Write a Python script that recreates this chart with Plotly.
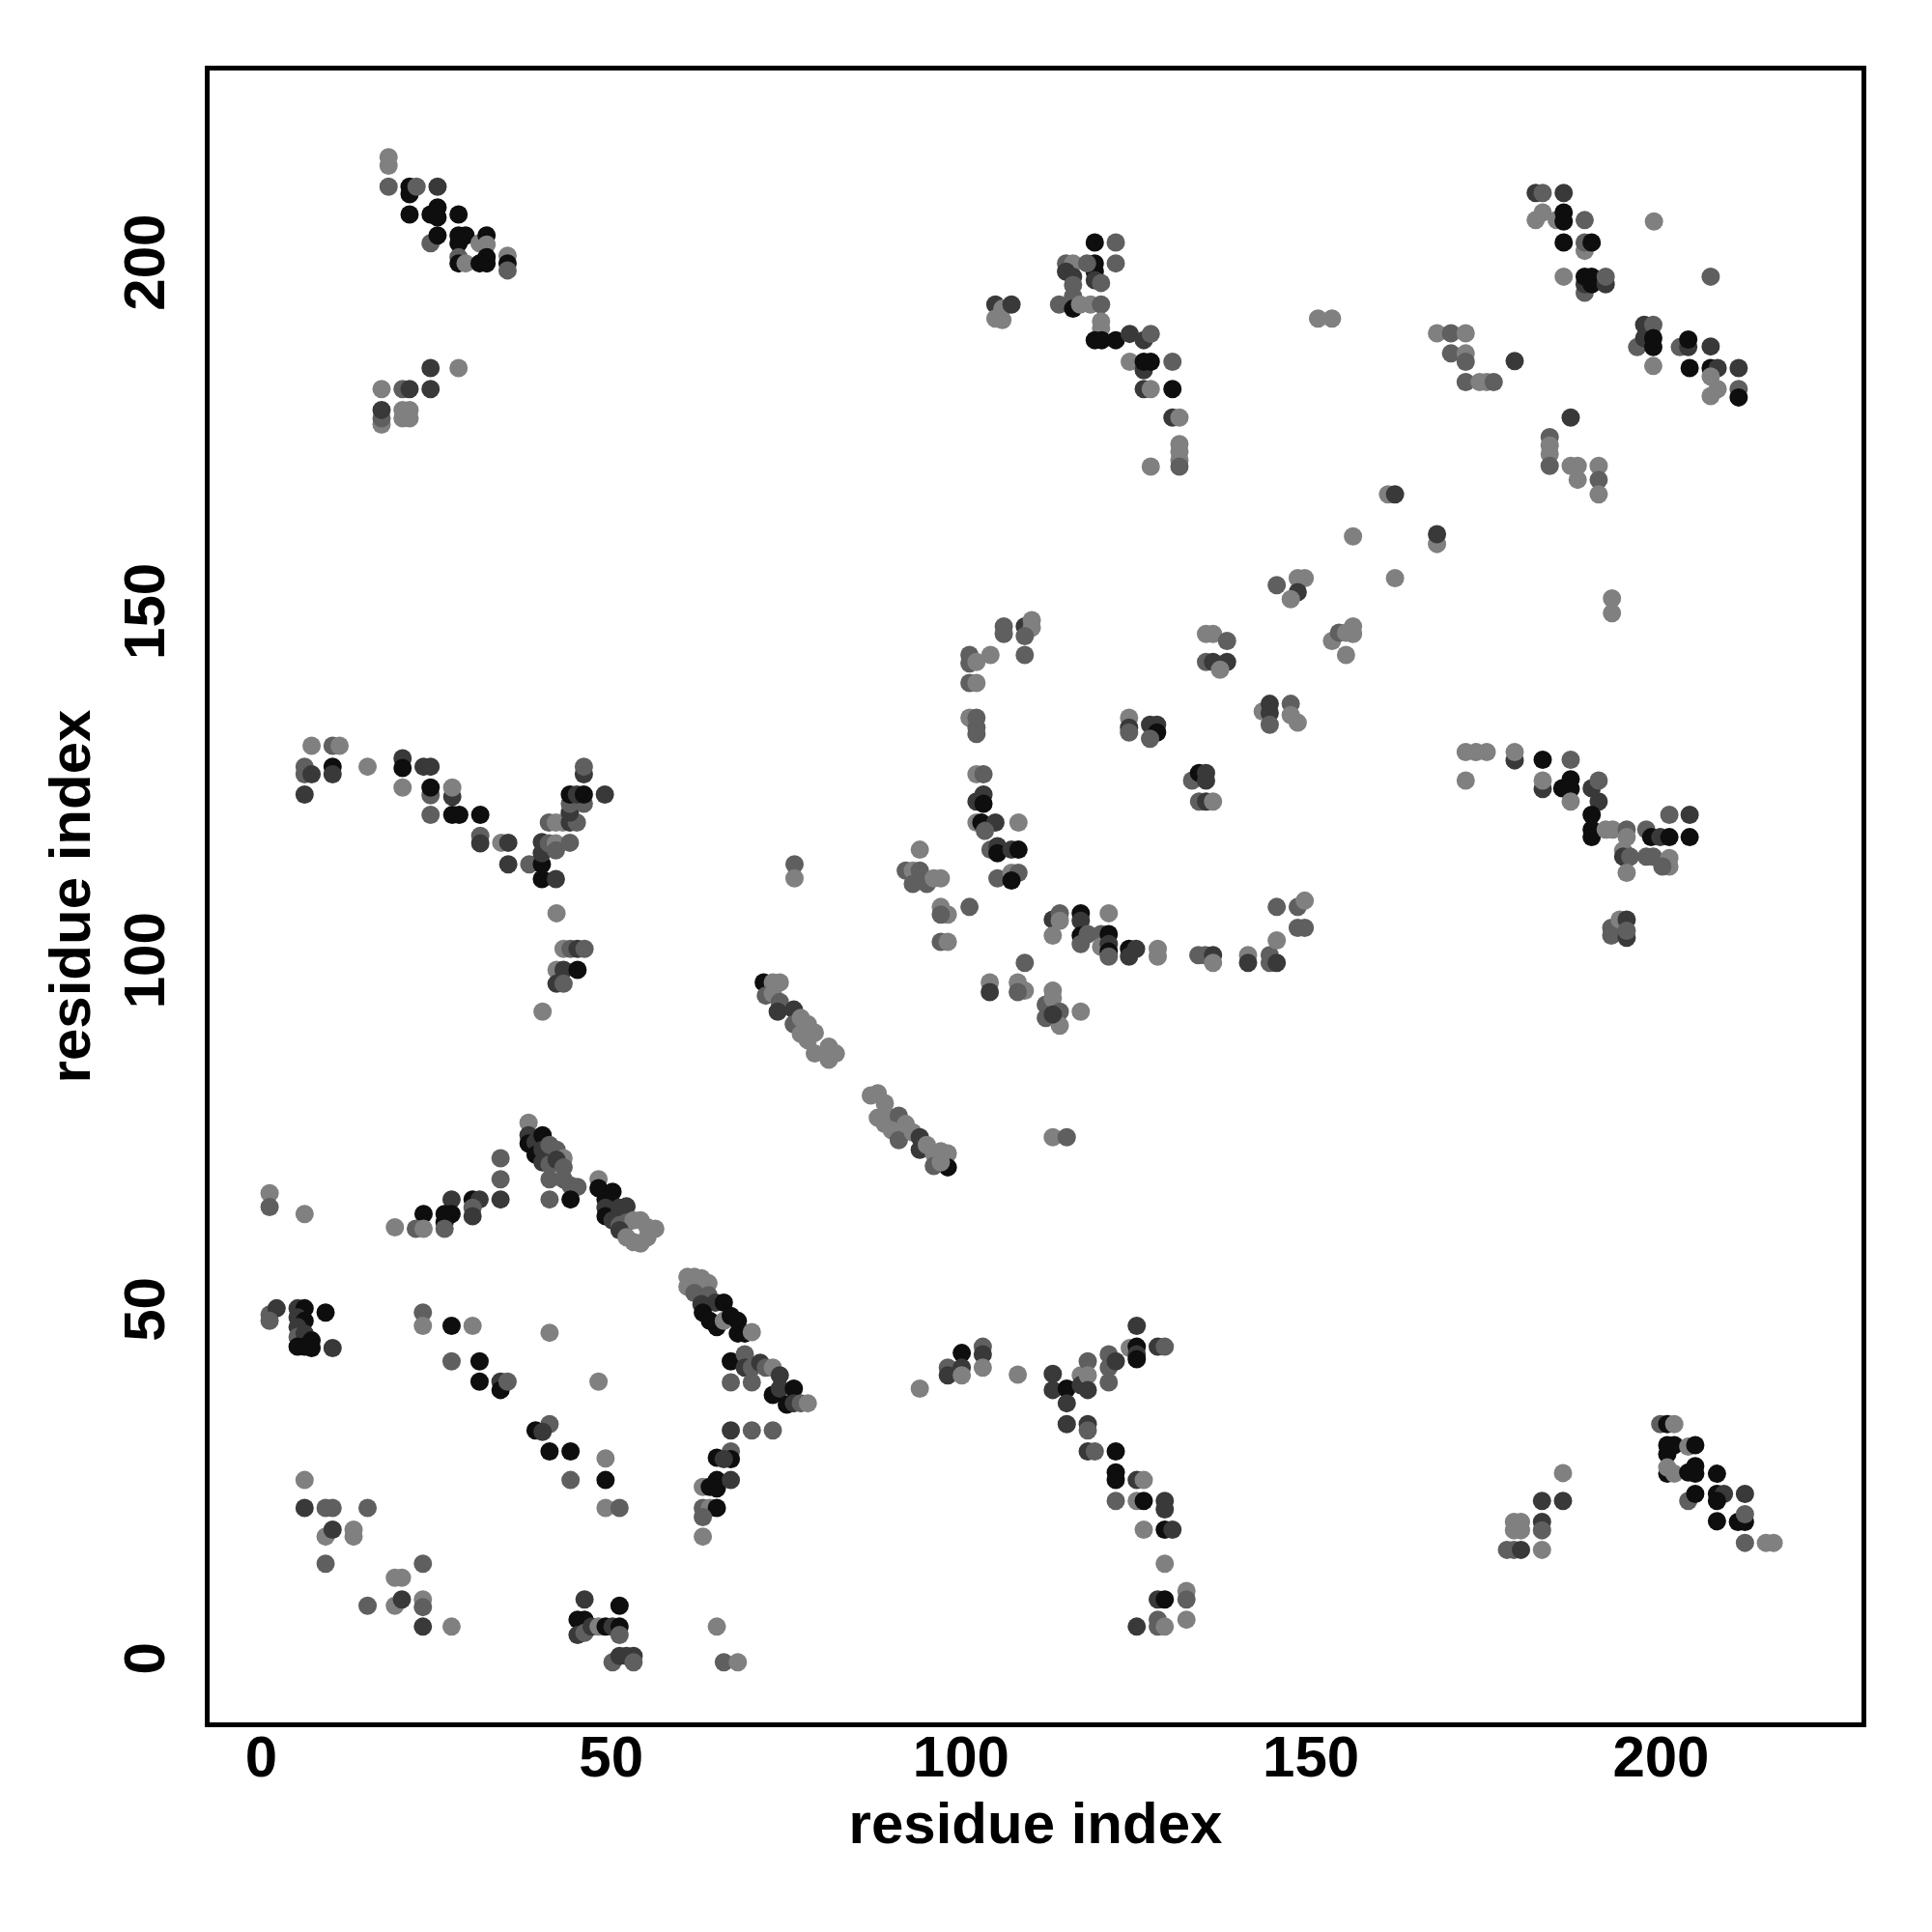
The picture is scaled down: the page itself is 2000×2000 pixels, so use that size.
import plotly.graph_objects as go

# Each point: (residue i, residue j, shade level)  k=black, d=dark, m=mid, g=light grey
cluster_top_left = [
    (18.2,216.3,'g'),(18.2,215.1,'g'),(18.2,212.1,'m'),(21.2,212.1,'k'),(21.2,211.0,'k'),(22.2,212.1,'m'),(25.2,212.1,'d'),
    (21.2,208.1,'k'),(24.2,208.1,'k'),(25.2,209.1,'k'),(25.2,207.7,'k'),(28.2,208.1,'k'),
    (24.2,204.0,'m'),(25.2,205.1,'k'),(28.2,205.1,'k'),(28.2,204.0,'k'),(29.2,205.1,'k'),(31.2,204.0,'g'),(32.2,205.1,'k'),(32.2,203.8,'g'),
    (28.2,202.0,'m'),(28.2,201.1,'k'),(29.2,201.1,'g'),(31.2,201.1,'k'),(32.2,202.0,'k'),(32.2,201.1,'k'),(35.2,202.2,'g'),(35.2,201.1,'k'),(35.2,200.1,'m'),
    (24.2,186.1,'d'),(28.2,186.1,'g'),(17.2,183.1,'g'),(20.2,183.1,'m'),(21.2,183.1,'d'),(24.2,183.1,'d'),
    (17.2,178.0,'g'),(17.2,178.9,'m'),(17.2,180.1,'d'),(20.2,180.1,'g'),(21.2,180.1,'g'),(20.2,178.9,'g'),(21.2,178.9,'g'),
]

cluster_top_mid = [
    (119.1,204.1,'k'),(122.1,204.1,'m'),(119.1,201.1,'k'),(119.1,199.9,'k'),(119.1,198.7,'d'),(120.0,198.3,'m'),(122.1,201.1,'m'),
    (115.0,201.1,'m'),(116.0,201.1,'g'),(115.0,199.9,'d'),(116.0,199.2,'d'),(116.0,198.0,'m'),(118.0,201.1,'m'),
    (114.0,195.2,'m'),(116.0,196.4,'m'),(116.0,194.6,'k'),(117.0,195.2,'g'),(118.5,195.2,'g'),(120.0,195.2,'m'),
    (104.9,195.2,'d'),(104.9,193.2,'g'),(105.9,194.6,'g'),(105.9,193.0,'g'),(107.2,195.2,'d'),
    (120.0,192.8,'g'),(120.0,191.8,'g'),
    (119.1,190.1,'k'),(120.1,190.1,'k'),(122.1,190.1,'k'),(124.1,191.0,'d'),(126.1,190.1,'d'),(127.1,191.0,'m'),
    (124.1,187.0,'g'),(126.1,185.8,'d'),(126.1,187.0,'k'),(127.1,187.0,'k'),(130.2,187.0,'m'),
    (126.1,183.1,'d'),(127.1,183.1,'g'),(130.2,183.1,'k'),
    (130.2,179.0,'d'),(131.2,179.0,'g'),
    (131.2,175.2,'g'),(131.2,174.1,'g'),(131.2,172.9,'g'),(131.2,172.0,'m'),(127.1,172.0,'g'),
]

cluster_top_right = [
    (151.0,193.2,'g'),(153.0,193.2,'g'),
    (168.0,191.1,'g'),(170.0,191.1,'m'),(172.1,191.1,'g'),(170.0,188.2,'m'),(172.1,188.2,'g'),(172.1,187.0,'m'),
    (179.1,187.1,'d'),
    (172.1,184.1,'m'),(174.1,184.1,'g'),(175.1,184.1,'g'),(176.1,184.1,'m'),
    (182.1,211.2,'d'),(183.1,211.2,'m'),(186.1,211.2,'d'),
    (182.1,207.3,'g'),(183.1,208.4,'g'),(185.1,207.3,'g'),(186.1,208.4,'k'),(186.1,207.1,'k'),(189.1,207.3,'m'),
    (186.1,204.1,'k'),(189.1,202.9,'g'),(189.1,204.1,'m'),(190.1,204.1,'k'),
    (199.0,207.1,'g'),
    (186.1,199.2,'g'),(189.1,196.9,'m'),(189.1,198.1,'d'),(189.1,199.2,'k'),(190.1,199.2,'k'),(190.1,198.1,'k'),(192.1,198.1,'d'),(192.1,199.2,'m'),
    (207.1,199.2,'m'),
    (196.6,189.1,'m'),(197.6,192.3,'d'),(197.6,190.4,'d'),(198.9,192.3,'m'),(198.9,190.4,'k'),(198.9,189.1,'k'),(198.9,186.4,'g'),
    (202.7,189.1,'m'),(203.9,189.1,'d'),(203.9,190.2,'k'),(207.1,189.2,'d'),
    (204.1,186.1,'k'),(207.1,186.1,'k'),(208.1,186.1,'d'),(211.1,186.1,'d'),
    (207.1,184.9,'g'),(208.1,183.1,'g'),(207.1,182.1,'g'),(211.1,183.1,'m'),(211.1,181.9,'k'),
    (187.1,179.0,'d'),
    (184.1,176.2,'m'),(184.1,175.0,'g'),(184.1,173.8,'g'),(184.1,172.1,'m'),
    (187.1,172.1,'g'),(188.1,172.1,'g'),(188.1,170.1,'g'),(191.1,172.1,'g'),(191.1,170.1,'m'),(191.1,168.0,'g'),
]

cluster_mid_left = [
    (7.2,132.0,'g'),(10.2,132.0,'m'),(11.2,132.0,'g'),
    (6.2,129.0,'m'),(6.2,127.9,'m'),(7.2,127.9,'d'),(10.2,129.0,'k'),(10.2,127.9,'d'),(6.2,125.0,'d'),(15.2,129.0,'g'),
    (20.2,130.2,'d'),(20.2,128.8,'k'),(20.2,126.0,'g'),(23.2,129.0,'d'),(24.2,129.0,'d'),
    (24.2,124.9,'m'),(24.2,126.0,'k'),(27.3,124.7,'d'),(27.3,126.0,'g'),
    (24.2,122.1,'m'),(27.3,122.1,'k'),(28.3,122.1,'k'),(31.3,122.1,'k'),
    (31.3,119.1,'m'),(31.3,118.0,'d'),(34.3,118.1,'g'),(35.3,118.1,'d'),
    (35.3,115.0,'d'),(38.3,115.0,'m'),(40.1,115.0,'k'),(40.1,112.9,'k'),(42.1,112.9,'d'),
    (40.1,118.2,'d'),(40.1,116.6,'d'),(41.1,118.0,'m'),(42.1,118.0,'g'),(42.1,117.0,'m'),(44.1,118.1,'m'),
    (41.1,121.0,'m'),(42.1,121.0,'g'),(43.1,121.0,'g'),(44.1,121.0,'d'),(45.1,121.0,'m'),(44.1,122.4,'d'),
    (44.1,123.7,'m'),(46.1,123.7,'m'),(44.1,125.0,'k'),(45.1,125.0,'d'),(46.1,125.0,'k'),(49.1,125.0,'d'),
    (46.1,127.9,'d'),(46.1,129.0,'m'),
]

cluster_mid_center = [
    (145.1,155.0,'m'),(148.1,156.0,'g'),(149.1,156.0,'g'),(148.1,154.0,'d'),(147.1,153.0,'g'),
    (106.1,149.1,'m'),(106.1,148.0,'m'),(109.1,149.1,'d'),(110.1,150.0,'g'),(110.1,148.9,'g'),(109.1,147.7,'m'),
    (109.1,145.0,'m'),(101.2,145.0,'m'),(101.2,143.8,'m'),(102.2,144.0,'g'),(104.2,145.0,'g'),
    (101.2,141.0,'m'),(102.2,141.0,'g'),
    (101.2,136.0,'g'),(102.2,136.0,'m'),(102.2,134.6,'m'),(102.2,133.7,'m'),
    (102.2,127.9,'g'),(103.2,127.9,'m'),
    (103.2,125.0,'d'),(102.2,124.0,'d'),(103.2,123.7,'k'),
    (102.2,121.0,'g'),(102.9,121.0,'k'),(104.9,121.0,'d'),(108.2,121.0,'g'),(103.4,119.8,'m'),
    (104.2,117.1,'m'),(105.2,117.6,'d'),(105.2,116.6,'k'),(107.2,117.1,'d'),(108.2,117.1,'k'),
    (105.2,113.0,'m'),(107.2,113.8,'g'),(108.2,113.8,'m'),(107.2,112.7,'k'),
    (94.1,117.1,'g'),
    (92.1,114.1,'m'),(93.1,114.1,'g'),(94.1,114.1,'m'),(93.1,112.2,'m'),(95.1,112.2,'m'),(96.1,113.0,'g'),(97.1,113.0,'g'),
    (76.2,115.0,'m'),(76.2,113.0,'g'),
    (124.0,136.0,'g'),(124.0,134.6,'d'),(124.0,133.9,'m'),
    (127.0,135.0,'d'),(128.0,135.0,'d'),(128.0,133.9,'k'),(127.0,133.0,'m'),
    (135.0,148.0,'g'),(136.0,148.0,'g'),(138.0,147.0,'m'),(135.0,144.0,'m'),(136.0,144.0,'d'),(138.0,144.0,'d'),(137.0,142.9,'g'),
    (133.0,127.0,'m'),(134.0,128.1,'k'),(135.0,128.1,'d'),(135.0,127.0,'d'),(134.0,124.0,'m'),(135.0,124.0,'d'),(136.0,124.0,'g'),
    (143.1,136.9,'g'),(144.1,138.0,'d'),(144.1,136.7,'d'),(144.1,135.0,'m'),(147.1,138.0,'m'),(147.1,136.4,'g'),(148.1,135.3,'g'),
]

cluster_mid_right = [
    (161.0,168.0,'g'),(162.0,168.0,'d'),
    (156.0,162.0,'g'),(168.0,160.9,'g'),(168.0,162.3,'d'),
    (162.0,156.0,'g'),
    (193.0,153.1,'g'),(193.0,151.0,'g'),
    (153.0,147.0,'g'),(154.0,148.2,'m'),(155.0,148.2,'g'),(156.0,149.1,'g'),(156.0,148.0,'g'),(155.0,145.0,'g'),
    (172.1,131.1,'g'),(173.6,131.1,'g'),(175.1,131.1,'g'),(179.1,129.9,'d'),(179.1,131.1,'g'),
    (172.1,127.0,'g'),(183.1,130.0,'k'),(187.1,130.0,'m'),
    (183.1,125.8,'d'),(183.1,127.0,'g'),(185.9,125.9,'k'),(187.1,127.2,'k'),(187.1,125.8,'k'),(187.1,124.0,'g'),
    (190.1,125.9,'d'),(191.1,127.0,'m'),(191.1,124.0,'d'),
    (190.1,122.1,'k'),(190.1,120.0,'k'),(190.1,118.9,'k'),
    (192.1,120.0,'g'),(193.1,120.0,'g'),(195.1,120.0,'m'),(195.1,118.9,'g'),
    (194.6,117.0,'g'),(194.6,116.1,'d'),(195.6,116.1,'m'),(195.1,113.8,'g'),
    (197.9,120.0,'m'),(198.6,118.9,'k'),(197.9,116.1,'m'),(198.9,116.1,'m'),(199.9,118.9,'d'),(201.2,118.9,'k'),
    (201.2,115.9,'g'),(201.2,114.7,'g'),(200.2,114.7,'m'),
    (201.2,122.1,'m'),(204.1,122.1,'d'),(204.1,118.9,'k'),
]

cluster_center_left = [
    (42.2,108.0,'g'),
    (43.2,102.9,'g'),(44.2,102.9,'m'),(45.2,102.9,'d'),(46.2,102.9,'m'),
    (42.2,99.9,'g'),(43.2,99.9,'d'),(45.2,99.9,'k'),
    (42.2,97.9,'d'),(43.2,97.9,'m'),
    (40.2,93.9,'g'),
    (38.2,78.0,'g'),(38.2,76.2,'d'),(38.2,75.0,'k'),(39.2,75.2,'d'),(40.2,76.2,'k'),(39.2,73.4,'k'),(40.2,74.1,'d'),
    (41.2,74.8,'m'),(42.2,74.1,'m'),(43.2,72.9,'g'),(40.2,72.3,'d'),(41.2,72.0,'m'),(42.2,72.7,'d'),(43.2,71.6,'m'),
    (41.2,69.9,'m'),(43.2,69.9,'m'),(44.2,69.0,'m'),(45.2,68.8,'m'),
    (41.2,67.0,'m'),(44.2,67.0,'k'),
    (34.2,72.9,'m'),(34.2,69.9,'m'),(34.2,67.0,'d'),
    (27.2,67.0,'d'),(30.2,67.0,'k'),(31.2,67.0,'d'),(30.2,65.8,'m'),(30.2,64.6,'d'),
    (23.2,64.9,'k'),(26.2,64.9,'k'),(27.2,64.9,'k'),(26.2,63.7,'k'),(26.2,62.8,'m'),
    (19.1,63.0,'g'),(22.1,62.8,'m'),(23.2,62.8,'g'),
    (1.2,67.9,'g'),(1.2,65.9,'m'),(6.2,64.9,'g'),
    (48.2,69.9,'g'),(48.2,68.6,'k'),(50.2,68.1,'k'),(49.2,67.0,'k'),(49.2,65.8,'d'),(49.2,64.6,'k'),(51.2,65.8,'d'),
    (52.2,66.0,'d'),(50.2,64.0,'d'),(51.2,63.3,'m'),(52.2,63.7,'m'),(53.2,64.0,'g'),(54.2,64.0,'g'),(55.2,63.0,'g'),
    (56.3,62.8,'g'),(51.2,62.6,'d'),(52.2,61.6,'g'),(53.2,60.9,'g'),(54.2,60.7,'g'),(55.2,61.6,'g'),
    (60.9,55.9,'g'),(61.9,55.9,'g'),(62.9,55.7,'g'),(63.9,55.0,'g'),(60.9,54.5,'g'),(61.9,53.6,'m'),(63.9,53.3,'m'),
    (64.9,52.2,'d'),(66.1,52.2,'k'),(62.9,52.0,'d'),
]

cluster_center = [
    (97.1,108.9,'g'),(98.1,107.8,'g'),(97.1,107.8,'m'),(101.2,108.9,'m'),
    (97.1,103.9,'m'),(98.1,103.9,'g'),
    (113.1,107.1,'d'),(114.1,108.0,'m'),(114.1,106.9,'g'),(113.1,104.8,'g'),
    (117.1,108.0,'k'),(117.1,106.9,'d'),(117.1,104.8,'k'),(117.1,103.6,'m'),(118.1,105.0,'m'),
    (121.1,108.0,'g'),
    (120.0,105.0,'m'),(120.0,103.2,'g'),(121.1,105.0,'k'),(121.1,103.6,'d'),(121.1,102.5,'k'),(121.1,101.8,'m'),
    (124.0,102.9,'k'),(124.0,101.8,'d'),(125.0,102.9,'d'),
    (128.1,102.9,'g'),(128.1,101.8,'g'),
    (133.9,102.0,'m'),(134.9,102.0,'m'),(136.0,102.0,'d'),(136.0,100.9,'g'),
    (141.0,102.0,'g'),(141.0,100.9,'d'),(144.1,102.0,'m'),(144.1,100.9,'m'),(145.1,100.9,'d'),
    (145.1,108.9,'m'),(148.1,108.9,'m'),(149.1,109.8,'g'),(148.1,105.9,'m'),(149.1,105.9,'m'),(145.1,104.1,'g'),
    (109.1,100.9,'m'),
    (104.1,98.1,'g'),(104.1,96.7,'d'),(108.1,98.1,'g'),(109.1,96.9,'g'),(108.1,96.7,'m'),
    (113.1,96.9,'g'),(112.1,94.9,'m'),(113.1,95.8,'g'),(112.1,93.0,'m'),(114.1,93.9,'m'),(114.1,91.9,'g'),(113.1,93.5,'d'),
    (117.1,93.9,'g'),
    (113.1,75.9,'g'),(115.1,75.9,'m'),
    (192.9,105.9,'m'),(192.9,104.8,'m'),(194.1,107.1,'g'),(195.1,107.1,'d'),(195.1,104.5,'d'),(195.1,105.5,'m'),
]

diagonal_upper = [
    (71.8,98.1,'k'),(73.1,98.1,'g'),(74.1,98.1,'g'),(72.1,96.2,'m'),(73.1,96.5,'g'),(74.1,95.3,'m'),(73.8,93.9,'d'),
    (76.1,94.2,'d'),(76.1,92.1,'m'),(77.1,93.0,'g'),(78.1,92.1,'g'),(77.1,90.7,'g'),(78.1,89.8,'g'),(79.1,90.9,'g'),
    (79.1,87.9,'g'),(81.1,88.9,'g'),(82.1,87.9,'g'),(81.1,87.0,'g'),
]

diagonal_lower = [
    (87.1,81.9,'g'),(88.1,82.2,'g'),(89.1,80.8,'g'),(88.1,78.7,'g'),(89.1,77.8,'g'),(90.1,78.7,'g'),(91.1,79.0,'m'),
    (90.1,76.9,'g'),(91.1,75.5,'m'),(92.1,77.8,'g'),(93.1,76.6,'g'),(94.1,75.9,'d'),(94.1,74.1,'d'),(95.1,74.8,'g'),
    (96.1,73.6,'g'),(97.1,73.9,'g'),(98.1,73.6,'g'),(98.1,71.6,'k'),(96.1,71.8,'m'),(97.1,72.3,'g'),
]

cluster_bottom_left = [
    (1.2,50.5,'m'),(2.2,51.4,'d'),(1.2,49.6,'m'),
    (5.2,51.4,'d'),(6.2,51.4,'k'),(5.2,50.1,'d'),(6.2,49.6,'k'),(5.2,48.7,'d'),(5.2,47.3,'m'),(6.2,47.8,'d'),
    (5.2,45.9,'k'),(6.2,45.9,'k'),(7.2,46.8,'k'),(7.2,45.7,'k'),
    (9.2,50.8,'k'),(10.2,45.7,'d'),
    (23.1,50.8,'m'),(23.1,48.9,'g'),(27.2,48.9,'k'),(30.2,48.9,'g'),(41.2,47.9,'g'),
    (27.2,43.8,'m'),(31.2,43.8,'k'),(31.2,40.9,'k'),(34.2,40.9,'d'),(34.2,39.7,'k'),(35.2,40.9,'m'),
    (39.2,33.9,'k'),(41.2,34.8,'m'),(40.2,33.7,'d'),
    (41.2,30.9,'k'),(44.2,30.9,'k'),(44.2,26.8,'m'),
    (48.2,40.9,'g'),(49.2,29.9,'g'),(49.2,26.8,'k'),(49.2,22.8,'g'),(51.2,22.8,'m'),
    (6.2,26.8,'g'),(6.2,22.8,'d'),(9.2,22.8,'m'),(10.2,22.8,'m'),(15.2,22.8,'m'),
    (9.2,18.7,'g'),(10.2,19.7,'d'),(13.2,19.7,'g'),(13.2,18.7,'g'),(9.2,14.8,'m'),
    (23.1,14.8,'m'),(19.1,12.8,'g'),(20.1,12.8,'g'),
    (15.2,8.8,'m'),(19.1,8.8,'g'),(20.1,9.7,'d'),(23.1,9.7,'g'),(23.1,8.6,'m'),
    (23.1,5.8,'d'),(27.2,5.8,'g'),
    (46.2,9.7,'d'),(51.2,8.8,'k'),
    (45.2,6.8,'k'),(46.2,6.8,'k'),(45.2,4.6,'d'),(46.2,4.9,'m'),(47.2,5.8,'d'),(48.2,5.8,'g'),(49.2,5.8,'k'),
    (50.2,5.8,'d'),(51.2,5.8,'k'),(51.2,4.6,'m'),
    (50.2,0.7,'m'),(51.2,1.6,'d'),(52.2,1.6,'d'),(53.2,1.6,'d'),(53.2,0.7,'m'),
    (65.1,5.8,'g'),(66.1,0.7,'m'),(68.1,0.7,'g'),
    (67.1,33.9,'d'),(70.1,33.9,'m'),
    (65.1,30.0,'k'),(67.1,30.9,'m'),(67.1,29.8,'k'),(66.1,29.8,'d'),
    (63.1,25.8,'g'),(64.1,25.8,'k'),(65.1,26.8,'k'),(65.1,25.6,'k'),(67.1,26.8,'d'),
    (63.1,22.8,'m'),(64.1,22.8,'g'),(65.1,22.8,'k'),(63.1,21.5,'m'),(63.1,18.7,'g'),
    (63.1,50.8,'k'),(64.1,49.6,'k'),(65.1,48.7,'k'),(66.1,49.6,'g'),(67.1,50.3,'k'),(68.1,49.6,'k'),(68.1,47.8,'k'),
    (69.1,47.8,'k'),(70.1,48.0,'g'),
    (67.1,43.8,'k'),(69.1,44.8,'m'),(69.1,42.9,'d'),(70.1,42.9,'m'),(67.1,40.8,'m'),(70.1,40.8,'m'),
]

cluster_bottom_mid = [
    (71.3,43.6,'d'),(72.1,42.9,'m'),(73.1,42.9,'g'),(74.1,41.8,'d'),(73.1,39.0,'k'),(74.1,39.9,'d'),(75.1,37.6,'k'),
    (76.1,39.9,'k'),(76.1,37.8,'d'),(77.1,37.8,'m'),(78.1,37.8,'g'),
    (73.1,33.9,'m'),
    (94.1,39.9,'g'),
    (98.1,42.9,'m'),(98.1,41.8,'d'),(100.1,45.0,'k'),(100.1,42.9,'d'),(100.1,41.8,'g'),(103.1,45.9,'m'),(103.1,44.8,'d'),(103.1,42.9,'g'),
    (108.1,41.9,'g'),
    (113.1,42.0,'d'),(113.1,39.7,'d'),(115.1,39.9,'k'),(115.1,37.8,'d'),(117.1,41.8,'g'),(117.1,40.4,'d'),
    (118.1,43.8,'m'),(118.1,41.8,'g'),(118.1,39.7,'d'),
    (121.1,44.8,'m'),(121.1,42.9,'m'),(121.1,40.8,'m'),(122.1,43.8,'d'),
    (124.1,45.7,'g'),(125.1,48.9,'d'),(125.1,45.9,'k'),(125.1,44.8,'d'),(125.1,44.1,'k'),
    (128.1,45.9,'d'),(129.1,45.9,'m'),
    (115.1,34.8,'d'),(118.1,34.8,'d'),(118.1,33.9,'m'),
    (118.1,30.9,'d'),(119.1,30.9,'m'),(122.1,30.9,'k'),
    (122.1,27.9,'k'),(122.1,26.8,'k'),(125.1,26.8,'d'),(126.1,26.8,'g'),
    (122.1,23.8,'m'),(125.1,23.8,'g'),(126.1,23.8,'k'),(129.1,23.8,'d'),(129.1,22.6,'d'),
    (126.1,19.7,'g'),(129.1,19.7,'k'),(130.2,19.7,'d'),
    (129.1,14.8,'g'),
    (128.1,9.7,'d'),(129.1,9.7,'k'),(132.2,10.9,'g'),(132.2,9.7,'m'),
    (125.1,5.8,'d'),(128.1,6.8,'m'),(128.1,5.8,'m'),(129.1,5.8,'g'),(132.2,6.8,'g'),
]

cluster_bottom_right = [
    (186.0,27.8,'g'),(183.0,23.8,'d'),(186.0,23.8,'d'),
    (179.0,20.8,'g'),(180.0,20.8,'g'),(179.0,19.6,'g'),(180.0,19.6,'g'),(183.0,20.8,'d'),(183.0,19.6,'m'),
    (178.0,16.8,'m'),(179.0,16.8,'m'),(180.0,16.8,'d'),(183.0,16.8,'g'),
    (199.9,34.8,'m'),(200.9,34.8,'k'),(201.9,34.8,'g'),
    (200.9,31.8,'k'),(200.9,30.5,'k'),(201.9,31.8,'k'),(203.9,31.6,'g'),(204.9,31.8,'k'),
    (200.9,27.7,'k'),(200.9,28.6,'g'),(201.9,27.7,'g'),(203.9,27.9,'k'),(204.9,28.8,'k'),(204.9,27.7,'k'),(208.0,27.7,'k'),
    (203.9,23.8,'m'),(204.9,24.8,'k'),(208.0,24.8,'k'),(209.0,24.8,'d'),(208.0,23.8,'k'),(212.0,24.8,'d'),
    (208.0,20.9,'k'),(211.0,20.8,'k'),(212.0,20.8,'k'),(212.0,21.9,'m'),
    (212.0,17.8,'m'),(215.0,17.8,'g'),(216.1,17.8,'g'),
]

shade_colors = {'k': '#0e0e0e', 'd': '#393939', 'm': '#5f5f5f', 'g': '#808080'}
tick_values = [0, 50, 100, 150, 200]
axis_title = "residue index"

clusters = [cluster_top_left, cluster_top_mid, cluster_top_right, cluster_mid_left, cluster_mid_center,
            cluster_mid_right, cluster_center_left, cluster_center, diagonal_upper, diagonal_lower,
            cluster_bottom_left, cluster_bottom_mid, cluster_bottom_right]
pts = [p for c in clusters for p in c]
xs = [p[0] for p in pts]
ys = [p[1] for p in pts]
cols = [shade_colors[p[2]] for p in pts]

font_fam = "Liberation Sans, Arial, Helvetica, sans-serif"

fig = go.Figure(go.Scatter(
    x=xs, y=ys, mode="markers",
    marker=dict(size=19, color=cols, line=dict(width=0), opacity=1),
    hoverinfo="skip", showlegend=False,
))

axis_common = dict(
    tickvals=tick_values, ticktext=[str(v) for v in tick_values],
    showgrid=False, zeroline=False, automargin=False,
    showline=True, linecolor="black", linewidth=5, mirror=True,
    ticks="",
    tickfont=dict(family=font_fam, size=60, color="black", weight="bold"),
    title=dict(text=axis_title, font=dict(family=font_fam, size=60, color="black", weight="bold")),
)

# page body adds an 8px margin; size the figure so the plot box lands where the reference's does
fig.update_layout(
    width=1984, height=1984,
    margin=dict(l=209, r=65, t=65, b=209),
    paper_bgcolor="white", plot_bgcolor="white",
    xaxis=dict(range=[-7.37, 228.65], **axis_common),
    yaxis=dict(range=[-7.92, 228.73], tickangle=-90, **axis_common),
)
fig.update_xaxes(ticklabelstandoff=-21, title_standoff=16)
fig.update_yaxes(ticklabelstandoff=18, title_standoff=5)

fig.write_html("out.html")
